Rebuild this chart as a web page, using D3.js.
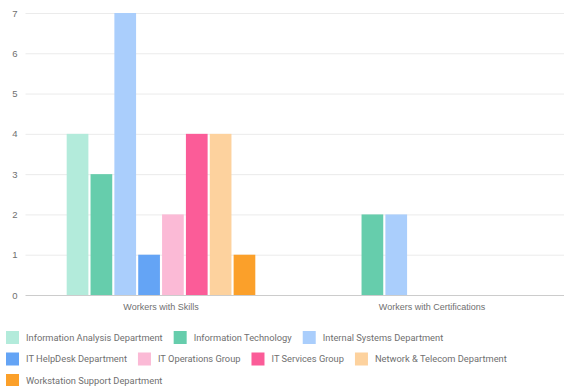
<!DOCTYPE html>
<html>
<head>
<meta charset="utf-8">
<script src="https://cdn.jsdelivr.net/npm/d3@7"></script>
<style>
  html, body { margin: 0; padding: 0; background: #fff; }
  svg { display: block; font-family: Roboto, "Noto Sans", sans-serif; }
</style>
</head>
<body>
<svg id="chart" width="564" height="386"></svg>
<script>
// Headcounts by department, grouped by measure
const categories = ["Workers with Skills", "Workers with Certifications"];
const departments = [
  "Information Analysis Department",
  "Information Technology",
  "Internal Systems Department",
  "IT HelpDesk Department",
  "IT Operations Group",
  "IT Services Group",
  "Network & Telecom Department",
  "Workstation Support Department"
];
const skillsValues = [4, 3, 7, 1, 2, 4, 4, 1];
const certificationValues = [0, 2, 2, 0, 0, 0, 0, 0];
const yTicks = [0, 1, 2, 3, 4, 5, 6, 7];
const colors = ["#b3ebdb", "#66cdac", "#aacefc", "#64a4f5", "#fbbad6", "#fb5c98", "#fdd29e", "#fba02a"];

const seriesByCategory = [skillsValues, certificationValues];

const svg = d3.select("#chart");
const W = 564, H = 386;
const plot = { left: 25.5, right: 567.5, top: 13, bottom: 295 };
const textColor = "#6f6f6f";

const x0 = d3.scaleBand()
  .domain(categories)
  .range([plot.left, plot.right])
  .paddingInner(0.304)
  .paddingOuter(0.152);

const x1 = d3.scaleBand()
  .domain(departments)
  .range([0, x0.bandwidth()])
  .paddingInner(0.09)
  .paddingOuter(0);

const y = d3.scaleLinear()
  .domain([0, 7])
  .range([plot.bottom, plot.top]);

const color = d3.scaleOrdinal().domain(departments).range(colors);

// Horizontal gridlines and y tick labels
const yAxis = d3.axisLeft(y)
  .tickValues(yTicks)
  .tickSize(-(W - plot.left))
  .tickPadding(8)
  .tickFormat(d3.format("d"));

const gy = svg.append("g")
  .attr("transform", `translate(${plot.left},0)`)
  .call(yAxis);
gy.select(".domain").remove();
gy.selectAll(".tick line")
  .attr("stroke", d => d === 0 ? "#cccccc" : "#ebebeb")
  .attr("stroke-width", 1);
gy.selectAll(".tick text")
  .attr("fill", textColor)
  .attr("font-size", 9.5)
  .attr("x", -8)
  .attr("text-anchor", "end");

// Bars
const groups = svg.append("g")
  .selectAll("g")
  .data(categories.map((c, i) => ({ category: c, values: seriesByCategory[i] })))
  .join("g")
  .attr("transform", d => `translate(${x0(d.category)},0)`);

groups.selectAll("rect")
  .data(d => departments.map((dep, j) => ({ dep, value: d.values[j] })).filter(v => v.value > 0))
  .join("rect")
  .attr("x", d => x1(d.dep))
  .attr("width", x1.bandwidth())
  .attr("y", d => y(d.value))
  .attr("height", d => y(0) - y(d.value))
  .attr("fill", d => color(d.dep));

// Category axis labels
const xAxis = d3.axisBottom(x0).tickSize(0).tickPadding(9);
const gx = svg.append("g")
  .attr("transform", `translate(0,${plot.bottom})`)
  .call(xAxis);
gx.select(".domain").remove();
gx.selectAll(".tick text")
  .attr("fill", textColor)
  .attr("font-size", 9);

// Legend, flowing left to right and wrapping
const legend = svg.append("g");
const sw = 13, gapText = 7, gapItem = 11, rowH = 21.5;
let lx = 6, ly = 331;
departments.forEach(dep => {
  const item = legend.append("g");
  item.append("rect")
    .attr("width", sw).attr("height", sw)
    .attr("fill", color(dep));
  const t = item.append("text")
    .attr("x", sw + gapText)
    .attr("y", sw / 2)
    .attr("dy", "0.35em")
    .attr("font-size", 9.3)
    .attr("fill", textColor)
    .text(dep);
  const w = sw + gapText + t.node().getComputedTextLength();
  if (lx + w > W - 4 && lx > 6) { lx = 6; ly += rowH; }
  item.attr("transform", `translate(${lx},${ly})`);
  lx += w + gapItem;
});
</script>
</body>
</html>
